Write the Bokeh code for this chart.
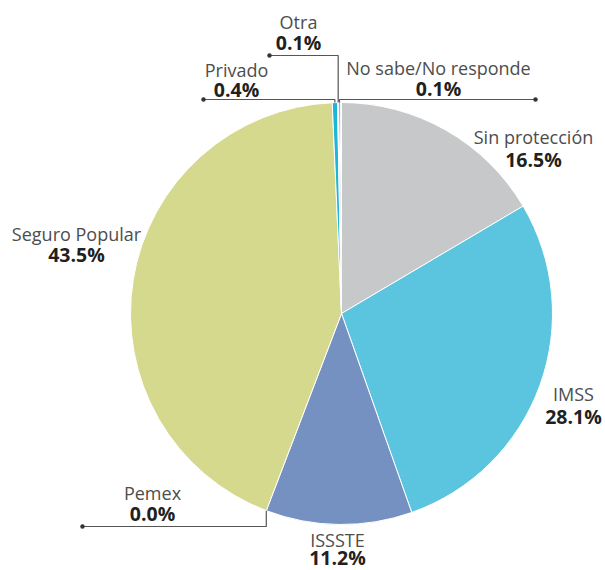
import math
from bokeh.plotting import figure
from bokeh.models import Range1d, ColumnDataSource
from bokeh.core.properties import value
from bokeh.embed import file_html
from bokeh.resources import INLINE

# ---- data (clockwise from 12 o'clock) ----
categories = ["Sin protección", "IMSS", "ISSSTE", "Pemex", "Seguro Popular",
              "Privado", "Otra", "No sabe/No responde"]
percents = [16.5, 28.1, 11.2, 0.0, 43.5, 0.4, 0.1, 0.1]
pct_labels = ["16.5%", "28.1%", "11.2%", "0.0%", "43.5%", "0.4%", "0.1%", "0.1%"]
colors = ["#c7c8ca", "#5bc4de", "#7591c1", "#a0a0a0", "#d5d98e",
          "#1db5d8", "#ffffff", "#1f4f8d"]

# ---- layout (page pixel coordinates) ----
W, H = 605, 570
CX, CY, R = 341, 313, 211
label_pos = {  # centre x, name line y, percent line y
    "Sin protección": (533, 136, 159),
    "IMSS": (573, 393, 416),
    "ISSSTE": (337, 539, 557),
    "Pemex": (152, 492, 513),
    "Seguro Popular": (76, 233, 254),
    "Privado": (236, 69, 89),
    "Otra": (298, 21, 42),
    "No sabe/No responde": (438, 67, 88),
}
leaders = {  # elbow y, dot x
    "Privado": (99, 203),
    "Otra": (55, 269),
    "No sabe/No responde": (99, 535),
    "Pemex": (526, 82),
}

def Y(py):
    return H - py

p = figure(width=W, height=H, output_backend="svg", toolbar_location=None,
           x_range=Range1d(0, W), y_range=Range1d(0, H),
           min_border=0)
p.axis.visible = False
p.grid.visible = False
p.outline_line_color = None
p.background_fill_color = "white"
p.border_fill_color = "white"

cum = [0.0]
for v in percents:
    cum.append(cum[-1] + v)
idx = [i for i, v in enumerate(percents) if v > 0]
starts = [math.pi / 2 - 2 * math.pi * cum[i] / 100 for i in idx]
ends = [math.pi / 2 - 2 * math.pi * cum[i + 1] / 100 for i in idx]
src = ColumnDataSource(dict(x=[CX] * len(idx), y=[Y(CY)] * len(idx),
                            s=starts, e=ends, c=[colors[i] for i in idx]))
p.wedge(x="x", y="y", radius=R, start_angle="s", end_angle="e", direction="clock",
        fill_color="c", line_color="white", line_width=1.0, source=src)

# leader lines
for name, (ey, dx) in leaders.items():
    i = categories.index(name)
    mid = (cum[i] + cum[i + 1]) / 2 / 100 * 2 * math.pi
    ax = CX + R * math.sin(mid)
    ay = CY - R * math.cos(mid)
    p.line([ax, ax, dx], [Y(ay), Y(ey), Y(ey)], line_color="#555555", line_width=1.2)
    p.scatter([dx], [Y(ey)], size=4.5, fill_color="#333333", line_color=None)

# labels
names_x, names_y, pcts_y, pcts = [], [], [], []
for i, name in enumerate(categories):
    x, ny, py = label_pos[name]
    names_x.append(x); names_y.append(Y(ny)); pcts_y.append(Y(py)); pcts.append(pct_labels[i])
p.text(x=names_x, y=names_y, text=categories, text_align="center", text_baseline="middle",
       text_font=value("Open Sans"), text_font_size="18px", text_color="#4d4d4d")
p.text(x=names_x, y=pcts_y, text=pcts, text_align="center", text_baseline="middle",
       text_font=value("Open Sans"), text_font_size="19.5px", text_font_style="bold",
       text_color="#231f20")

open("out.html", "w").write(file_html(p, INLINE))
